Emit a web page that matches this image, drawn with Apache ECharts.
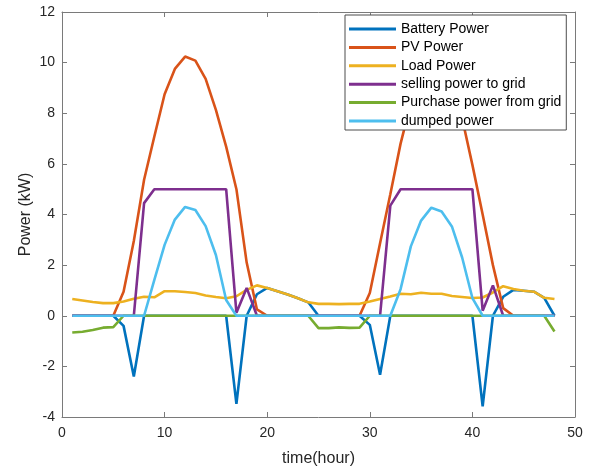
<!DOCTYPE html>
<html>
<head>
<meta charset="utf-8">
<script src="https://cdn.jsdelivr.net/npm/echarts@6/dist/echarts.min.js"></script>
<style>html,body{margin:0;padding:0;background:#fff}#c{width:596px;height:470px}</style>
</head>
<body>
<div id="c"></div>
<script>
var hours = [1,2,3,4,5,6,7,8,9,10,11,12,13,14,15,16,17,18,19,20,21,22,23,24,25,26,27,28,29,30,31,32,33,34,35,36,37,38,39,40,41,42,43,44,45,46,47,48];
var batteryPower = [0,0,0,0,0, -0.4,-2.4,0,0,0, 0,0,0,0,0, 0,-3.48,0,0.85,1.1, 0.97,0.84,0.69,0.53,0, 0,0,0,0,-0.36, -2.33,0,0,0,0, 0,0,0,0,0, -3.58,0,0.75,1.02,0.99, 0.95,0.71,0];
var pvPower = [0,0,0,0,0, 0.95,2.95,5.37,7.08,8.75, 9.75,10.24,10.08,9.36,8.13, 6.68,5.0,2.1,0.25,0, 0,0,0,0,0, 0,0,0,0,0.9, 2.86,4.8,6.8,8.4,9.4, 9.9,9.75,9.0,7.8,5.96, 4.0,2.0,0.3,0,0, 0,0,0];
var loadPower = [0.66,0.6,0.54,0.5,0.5, 0.56,0.67,0.75,0.73,0.97, 0.97,0.94,0.9,0.8,0.74, 0.69,0.77,1.02,1.2,1.1, 0.97,0.84,0.69,0.53,0.47, 0.47,0.46,0.47,0.47,0.56, 0.66,0.76,0.87,0.85,0.91, 0.87,0.87,0.78,0.74,0.7, 0.72,0.92,1.17,1.06,0.99, 0.95,0.71,0.66];
var sellingPower = [0,0,0,0,0, 0,0,4.45,5,5, 5,5,5,5,5, 5,0.12,1.1,0,0, 0,0,0,0,0, 0,0,0,0,0, 0,4.35,5,5,5, 5,5,5,5,5, 0.2,1.2,0,0,0, 0,0,0];
var purchasePower = [-0.66,-0.63,-0.56,-0.47,-0.45, 0,0,0,0,0, 0,0,0,0,0, 0,0,0,0,0, 0,0,0,0,-0.49, -0.49,-0.46,-0.48,-0.47,0, 0,0,0,0,0, 0,0,0,0,0, 0,0,0,0,0, 0,0,-0.62];
var dumpedPower = [0,0,0,0,0, 0,0,0,1.42,2.8, 3.8,4.3,4.18,3.54,2.4, 0.62,0,0,0,0, 0,0,0,0,0, 0,0,0,0,0, 0,0,1.05,2.74,3.76, 4.27,4.12,3.53,2.3,0.7, 0,0,0,0,0, 0,0,0];

var seriesNames = ['Battery Power','PV Power','Load Power','selling power to grid','Purchase power from grid','dumped power'];
var seriesValues = [batteryPower, pvPower, loadPower, sellingPower, purchasePower, dumpedPower];
var colors = ['#0072BD','#D95319','#EDB120','#7E2F8E','#77AC30','#4DBEEE'];

var font = 'Arial, "Liberation Sans", Helvetica, sans-serif';
var axisCol = '#7a7a7a';
var labelCol = '#262626';

function pairs(vals){ return hours.map(function(h,i){ return [h, vals[i]]; }); }

var series = seriesNames.map(function(n, k){
  return {
    name: n, type: 'line', data: pairs(seriesValues[k]),
    showSymbol: false, symbol: 'none', smooth: false,
    lineStyle: {width: 2.6, color: colors[k]}, itemStyle: {color: colors[k]},
    animation: false, xAxisIndex: 0, yAxisIndex: 0
  };
});

var chart = echarts.init(document.getElementById('c'), null, {renderer: 'canvas'});
chart.setOption({
  backgroundColor: '#fff',
  animation: false,
  grid: {left: 62, right: 21, top: 12, bottom: 53, containLabel: false, outerBoundsMode: 'none'},
  legend: {
    orient: 'vertical', left: 345, top: 15,
    data: seriesNames,
    icon: 'rect', itemWidth: 47, itemHeight: 3, itemGap: 4.4,
    padding: [7, 5, 2, 4],
    backgroundColor: '#fff', borderColor: '#4d4d4d', borderWidth: 1,
    textStyle: {fontFamily: font, fontSize: 14, color: '#000', lineHeight: 14}
  },
  xAxis: [{
    type: 'value', min: 0, max: 50, interval: 10, position: 'bottom',
    name: 'time(hour)', nameLocation: 'middle', nameGap: 34, nameMoveOverlap: false,
    nameTextStyle: {fontFamily: font, fontSize: 16, color: labelCol},
    axisLine: {show: true, onZero: false, lineStyle: {color: axisCol, width: 1}},
    axisTick: {show: true, inside: true, length: 5, lineStyle: {color: axisCol}},
    axisLabel: {fontFamily: font, fontSize: 14, color: labelCol, margin: 9},
    splitLine: {show: false}
  },{
    type: 'value', min: 0, max: 50, interval: 10, position: 'top',
    axisLine: {show: true, onZero: false, lineStyle: {color: axisCol, width: 1}},
    axisTick: {show: true, inside: true, length: 5, lineStyle: {color: axisCol}},
    axisLabel: {show: false}, splitLine: {show: false}
  }],
  yAxis: [{
    type: 'value', min: -4, max: 12, interval: 2, position: 'left',
    name: 'Power (kW)', nameLocation: 'middle', nameGap: 28, nameMoveOverlap: false,
    nameTextStyle: {fontFamily: font, fontSize: 16, color: labelCol},
    axisLine: {show: true, onZero: false, lineStyle: {color: axisCol, width: 1}},
    axisTick: {show: true, inside: true, length: 5, lineStyle: {color: axisCol}},
    axisLabel: {fontFamily: font, fontSize: 14, color: labelCol, margin: 7},
    splitLine: {show: false}
  },{
    type: 'value', min: -4, max: 12, interval: 2, position: 'right',
    axisLine: {show: true, onZero: false, lineStyle: {color: axisCol, width: 1}},
    axisTick: {show: true, inside: true, length: 5, lineStyle: {color: axisCol}},
    axisLabel: {show: false}, splitLine: {show: false}
  }],
  series: series
});
</script>
</body>
</html>
